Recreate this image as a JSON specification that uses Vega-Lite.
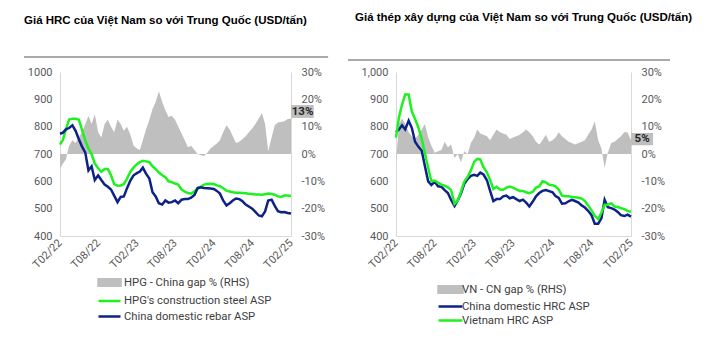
{
  "$schema": "https://vega.github.io/schema/vega-lite/v6.json",
  "background": "white",
  "padding": {"left": 23, "top": 11, "right": 5, "bottom": 5},
  "spacing": 18,
  "config": {
    "view": {"stroke": null},
    "font": "Roboto",
    "axis": {"labelFont": "Roboto", "labelColor": "#595959", "labelFontSize": 11, "ticks": false, "grid": false, "domainColor": "#d9d9d9", "domainWidth": 1, "title": null, "labelOverlap": false, "labelBound": false},
    "legend": {"orient": "none", "direction": "vertical", "title": null, "padding": 0, "labelFont": "Roboto", "labelFontSize": 11.3, "labelColor": "#404040"}
  },
  "hconcat": [
    {
      "width": 231,
      "height": 164,
      "title": {"text": "Giá HRC của Việt Nam so với Trung Quốc (USD/tấn)", "anchor": "start", "frame": "group", "dx": -36, "offset": 30, "font": "Liberation Sans", "fontSize": 11.5, "fontWeight": "bold", "color": "#000000"},
      "data": {"values": [
        {"d": "2022-02-01", "gap": -0.054, "green": 734, "navy": 774},
        {"d": "2022-02-15", "gap": -0.035, "green": 752, "navy": 778},
        {"d": "2022-03-01", "gap": -0.02, "green": 790, "navy": 790},
        {"d": "2022-03-16", "gap": 0.03, "green": 826, "navy": 795},
        {"d": "2022-04-01", "gap": 0.05, "green": 829, "navy": 805},
        {"d": "2022-04-16", "gap": 0.04, "green": 829, "navy": 785},
        {"d": "2022-05-01", "gap": 0.06, "green": 826, "navy": 755},
        {"d": "2022-05-16", "gap": 0.08, "green": 790, "navy": 728},
        {"d": "2022-06-01", "gap": 0.11, "green": 750, "navy": 705},
        {"d": "2022-06-16", "gap": 0.14, "green": 720, "navy": 640},
        {"d": "2022-07-01", "gap": 0.11, "green": 700, "navy": 655},
        {"d": "2022-07-16", "gap": 0.145, "green": 665, "navy": 605},
        {"d": "2022-08-01", "gap": 0.08, "green": 648, "navy": 622},
        {"d": "2022-08-16", "gap": 0.06, "green": 635, "navy": 605},
        {"d": "2022-09-01", "gap": 0.11, "green": 645, "navy": 588},
        {"d": "2022-09-16", "gap": 0.125, "green": 645, "navy": 580},
        {"d": "2022-10-01", "gap": 0.10, "green": 622, "navy": 570},
        {"d": "2022-10-16", "gap": 0.08, "green": 590, "navy": 548},
        {"d": "2022-11-01", "gap": 0.125, "green": 584, "navy": 524},
        {"d": "2022-11-16", "gap": 0.11, "green": 585, "navy": 543},
        {"d": "2022-12-01", "gap": 0.085, "green": 590, "navy": 545},
        {"d": "2022-12-16", "gap": 0.10, "green": 610, "navy": 575},
        {"d": "2023-01-01", "gap": 0.07, "green": 635, "navy": 603},
        {"d": "2023-01-16", "gap": 0.03, "green": 650, "navy": 622},
        {"d": "2023-02-01", "gap": 0.02, "green": 663, "navy": 630},
        {"d": "2023-02-15", "gap": 0.015, "green": 670, "navy": 636},
        {"d": "2023-03-01", "gap": 0.05, "green": 675, "navy": 650},
        {"d": "2023-03-16", "gap": 0.09, "green": 673, "navy": 628},
        {"d": "2023-04-01", "gap": 0.125, "green": 670, "navy": 610},
        {"d": "2023-04-16", "gap": 0.165, "green": 655, "navy": 560},
        {"d": "2023-05-01", "gap": 0.19, "green": 645, "navy": 545},
        {"d": "2023-05-16", "gap": 0.23, "green": 632, "navy": 520},
        {"d": "2023-06-01", "gap": 0.19, "green": 622, "navy": 515},
        {"d": "2023-06-16", "gap": 0.16, "green": 615, "navy": 530},
        {"d": "2023-07-01", "gap": 0.135, "green": 600, "navy": 522},
        {"d": "2023-07-16", "gap": 0.14, "green": 597, "navy": 524},
        {"d": "2023-08-01", "gap": 0.125, "green": 592, "navy": 530},
        {"d": "2023-08-16", "gap": 0.10, "green": 588, "navy": 520},
        {"d": "2023-09-01", "gap": 0.075, "green": 570, "navy": 533},
        {"d": "2023-09-16", "gap": 0.05, "green": 562, "navy": 535},
        {"d": "2023-10-01", "gap": 0.025, "green": 557, "navy": 535},
        {"d": "2023-10-16", "gap": 0.03, "green": 555, "navy": 540},
        {"d": "2023-11-01", "gap": 0.015, "green": 563, "navy": 550},
        {"d": "2023-11-16", "gap": 0.0, "green": 575, "navy": 575},
        {"d": "2023-12-01", "gap": -0.005, "green": 580, "navy": 578},
        {"d": "2023-12-16", "gap": -0.007, "green": 588, "navy": 576},
        {"d": "2024-01-01", "gap": 0.005, "green": 590, "navy": 575},
        {"d": "2024-01-16", "gap": 0.02, "green": 591, "navy": 574},
        {"d": "2024-02-01", "gap": 0.03, "green": 590, "navy": 572},
        {"d": "2024-02-15", "gap": 0.038, "green": 585, "navy": 565},
        {"d": "2024-03-01", "gap": 0.05, "green": 582, "navy": 555},
        {"d": "2024-03-16", "gap": 0.08, "green": 575, "navy": 530},
        {"d": "2024-04-01", "gap": 0.105, "green": 566, "navy": 512},
        {"d": "2024-04-16", "gap": 0.09, "green": 563, "navy": 520},
        {"d": "2024-05-01", "gap": 0.065, "green": 560, "navy": 530},
        {"d": "2024-05-16", "gap": 0.04, "green": 558, "navy": 537},
        {"d": "2024-06-01", "gap": 0.045, "green": 558, "navy": 535},
        {"d": "2024-06-16", "gap": 0.055, "green": 557, "navy": 527},
        {"d": "2024-07-01", "gap": 0.065, "green": 556, "navy": 515},
        {"d": "2024-07-16", "gap": 0.08, "green": 555, "navy": 508},
        {"d": "2024-08-01", "gap": 0.093, "green": 554, "navy": 500},
        {"d": "2024-08-16", "gap": 0.11, "green": 552, "navy": 488},
        {"d": "2024-09-01", "gap": 0.13, "green": 552, "navy": 475},
        {"d": "2024-09-16", "gap": 0.15, "green": 551, "navy": 472},
        {"d": "2024-10-01", "gap": 0.11, "green": 553, "navy": 490},
        {"d": "2024-10-16", "gap": 0.01, "green": 555, "navy": 530},
        {"d": "2024-11-01", "gap": 0.06, "green": 554, "navy": 533},
        {"d": "2024-11-16", "gap": 0.105, "green": 551, "navy": 510},
        {"d": "2024-12-01", "gap": 0.115, "green": 545, "navy": 491},
        {"d": "2024-12-16", "gap": 0.117, "green": 543, "navy": 487},
        {"d": "2025-01-01", "gap": 0.12, "green": 548, "navy": 488},
        {"d": "2025-01-16", "gap": 0.128, "green": 548, "navy": 484},
        {"d": "2025-02-01", "gap": 0.13, "green": 546, "navy": 482}
      ]},
      "layer": [
        {
          "layer": [
            {
              "mark": {"type": "area", "opacity": 1, "interpolate": "linear"},
              "encoding": {
                "x": {"field": "d", "type": "temporal",
                  "scale": {"type": "utc", "domain": [{"year": 2022, "month": 2, "date": 1, "utc": true}, {"year": 2025, "month": 2, "date": 1, "utc": true}]},
                  "axis": {"values": [
                    {"year": 2022, "month": 2, "date": 1, "utc": true},
                    {"year": 2022, "month": 8, "date": 1, "utc": true},
                    {"year": 2023, "month": 2, "date": 1, "utc": true},
                    {"year": 2023, "month": 8, "date": 1, "utc": true},
                    {"year": 2024, "month": 2, "date": 1, "utc": true},
                    {"year": 2024, "month": 8, "date": 1, "utc": true},
                    {"year": 2025, "month": 2, "date": 1, "utc": true}],
                    "labelExpr": "'T' + utcFormat(datum.value, '%m/%y')", "labelAngle": -45, "labelAlign": "right", "labelBaseline": "middle", "labelPadding": 5, "labelFontSize": 11, "labelOverlap": false}},
                "y": {"field": "gap", "type": "quantitative",
                  "scale": {"domain": [-0.3, 0.3], "nice": false, "zero": false},
                  "axis": {"orient": "right", "values": [-0.3, -0.2, -0.1, 0, 0.1, 0.2, 0.3], "format": ".0%", "labelExpr": "replace(datum.label, '\u2212', '-')", "labelPadding": 10, "labelOverlap": false}},
                "color": {"datum": "gap", "type": "nominal",
                  "scale": {"domain": ["gap", "green", "navy"], "range": ["#bfbfbf", "#1ef21e", "#0d2289"]},
                  "legend": {
                    "orient": "none", "legendX": 40, "legendY": 201, "direction": "vertical", "title": null, "padding": 0,
                    "symbolSize": 256, "labelOffset": 5, "rowPadding": 0.5,
                    "labelFont": "Roboto", "labelFontSize": 11.3, "labelColor": "#404040",
                    "labelExpr": "datum.value == 'gap' ? 'HPG - China gap % (RHS)' : datum.value == 'green' ? 'HPG\\'s construction steel ASP' : 'China domestic rebar ASP'",
                    "encode": {"symbols": {"update": {
                      "shape": {"signal": "datum.value == 'gap' ? 'M-1.375,-0.41H1.375V0.41H-1.375Z' : 'M-1.375,0H1.375'"},
                      "fill": {"signal": "datum.value == 'gap' ? '#bfbfbf' : 'transparent'"},
                      "stroke": {"signal": "datum.value == 'gap' ? 'transparent' : datum.value == 'green' ? '#1ef21e' : '#0d2289'"},
                      "strokeWidth": {"value": 2.5},
                      "opacity": {"value": 1}
                    }}}
                  }}
              }
            },
            {
              "data": {"values": [{"lab": "13%"}]},
              "mark": {"type": "rect", "color": "#bfbfbf", "opacity": 1},
              "encoding": {
                "x": {"datum": {"year": 2025, "month": 2, "date": 1, "utc": true}, "type": "temporal",
                  "axis": {"values": [
                    {"year": 2022, "month": 2, "date": 1, "utc": true},
                    {"year": 2022, "month": 8, "date": 1, "utc": true},
                    {"year": 2023, "month": 2, "date": 1, "utc": true},
                    {"year": 2023, "month": 8, "date": 1, "utc": true},
                    {"year": 2024, "month": 2, "date": 1, "utc": true},
                    {"year": 2024, "month": 8, "date": 1, "utc": true},
                    {"year": 2025, "month": 2, "date": 1, "utc": true}],
                    "labelExpr": "'T' + utcFormat(datum.value, '%m/%y')", "labelAngle": -45, "labelAlign": "right", "labelBaseline": "middle", "labelPadding": 5, "labelFontSize": 11, "labelOverlap": false}},
                "x2": {"datum": {"year": 2025, "month": 5, "date": 20, "utc": true}},
                "y": {"datum": 0.179, "type": "quantitative",
                  "axis": {"orient": "right", "values": [-0.3, -0.2, -0.1, 0, 0.1, 0.2, 0.3], "format": ".0%", "labelExpr": "replace(datum.label, '\u2212', '-')", "labelPadding": 10, "labelOverlap": false}},
                "y2": {"datum": 0.132}
              }
            },
            {
              "data": {"values": [{"lab": "13%"}]},
              "mark": {"type": "text", "font": "Roboto", "fontWeight": "bold", "fontSize": 11.5, "color": "#262626"},
              "encoding": {
                "x": {"datum": {"year": 2025, "month": 3, "date": 28, "utc": true}, "type": "temporal",
                  "axis": {"values": [
                    {"year": 2022, "month": 2, "date": 1, "utc": true},
                    {"year": 2022, "month": 8, "date": 1, "utc": true},
                    {"year": 2023, "month": 2, "date": 1, "utc": true},
                    {"year": 2023, "month": 8, "date": 1, "utc": true},
                    {"year": 2024, "month": 2, "date": 1, "utc": true},
                    {"year": 2024, "month": 8, "date": 1, "utc": true},
                    {"year": 2025, "month": 2, "date": 1, "utc": true}],
                    "labelExpr": "'T' + utcFormat(datum.value, '%m/%y')", "labelAngle": -45, "labelAlign": "right", "labelBaseline": "middle", "labelPadding": 5, "labelFontSize": 11, "labelOverlap": false}},
                "y": {"datum": 0.155, "type": "quantitative",
                  "axis": {"orient": "right", "values": [-0.3, -0.2, -0.1, 0, 0.1, 0.2, 0.3], "format": ".0%", "labelExpr": "replace(datum.label, '\u2212', '-')", "labelPadding": 10, "labelOverlap": false}},
                "text": {"field": "lab"}
              }
            }
          ]
        },
        {
          "layer": [
            {
              "transform": [{"fold": ["green", "navy"], "as": ["series", "price"]}],
              "mark": {"type": "line", "strokeWidth": 2.5, "interpolate": "linear"},
              "encoding": {
                "x": {"field": "d", "type": "temporal",
                  "axis": {"values": [
                    {"year": 2022, "month": 2, "date": 1, "utc": true},
                    {"year": 2022, "month": 8, "date": 1, "utc": true},
                    {"year": 2023, "month": 2, "date": 1, "utc": true},
                    {"year": 2023, "month": 8, "date": 1, "utc": true},
                    {"year": 2024, "month": 2, "date": 1, "utc": true},
                    {"year": 2024, "month": 8, "date": 1, "utc": true},
                    {"year": 2025, "month": 2, "date": 1, "utc": true}],
                    "labelExpr": "'T' + utcFormat(datum.value, '%m/%y')", "labelAngle": -45, "labelAlign": "right", "labelBaseline": "middle", "labelPadding": 5, "labelFontSize": 11, "labelOverlap": false}},
                "y": {"field": "price", "type": "quantitative",
                  "scale": {"domain": [400, 1000], "nice": false, "zero": false},
                  "axis": {"orient": "left", "values": [400, 500, 600, 700, 800, 900, 1000], "format": "d", "labelPadding": 8, "labelOverlap": false}},
                "color": {"field": "series", "type": "nominal",
                  "legend": {
                    "orient": "none", "legendX": 40, "legendY": 201, "direction": "vertical", "title": null, "padding": 0,
                    "symbolSize": 256, "labelOffset": 5, "rowPadding": 0.5,
                    "labelFont": "Roboto", "labelFontSize": 11.3, "labelColor": "#404040",
                    "labelExpr": "datum.value == 'gap' ? 'HPG - China gap % (RHS)' : datum.value == 'green' ? 'HPG\\'s construction steel ASP' : 'China domestic rebar ASP'",
                    "encode": {"symbols": {"update": {
                      "shape": {"signal": "datum.value == 'gap' ? 'M-1.375,-0.41H1.375V0.41H-1.375Z' : 'M-1.375,0H1.375'"},
                      "fill": {"signal": "datum.value == 'gap' ? '#bfbfbf' : 'transparent'"},
                      "stroke": {"signal": "datum.value == 'gap' ? 'transparent' : datum.value == 'green' ? '#1ef21e' : '#0d2289'"},
                      "strokeWidth": {"value": 2.5},
                      "opacity": {"value": 1}
                    }}}
                  }}
              }
            },
            {
              "data": {"values": [{}]},
              "mark": {"type": "rule", "color": "#8c8c8c", "strokeWidth": 1.5},
              "encoding": {
                "x": {"datum": {"year": 2021, "month": 8, "date": 14, "utc": true}, "type": "temporal",
                  "axis": {"values": [
                    {"year": 2022, "month": 2, "date": 1, "utc": true},
                    {"year": 2022, "month": 8, "date": 1, "utc": true},
                    {"year": 2023, "month": 2, "date": 1, "utc": true},
                    {"year": 2023, "month": 8, "date": 1, "utc": true},
                    {"year": 2024, "month": 2, "date": 1, "utc": true},
                    {"year": 2024, "month": 8, "date": 1, "utc": true},
                    {"year": 2025, "month": 2, "date": 1, "utc": true}],
                    "labelExpr": "'T' + utcFormat(datum.value, '%m/%y')", "labelAngle": -45, "labelAlign": "right", "labelBaseline": "middle", "labelPadding": 5, "labelFontSize": 11, "labelOverlap": false}},
                "x2": {"datum": {"year": 2025, "month": 7, "date": 27, "utc": true}},
                "y": {"datum": 1055, "type": "quantitative",
                  "axis": {"orient": "left", "values": [400, 500, 600, 700, 800, 900, 1000], "format": "d", "labelPadding": 8, "labelOverlap": false}}
              }
            }
          ]
        }
      ],
      "resolve": {"scale": {"y": "independent"}}
    },
    {
      "width": 235,
      "height": 164,
      "title": {"text": "Giá thép xây dựng của Việt Nam so với Trung Quốc (USD/tấn)", "anchor": "start", "frame": "group", "dx": -41, "offset": 36, "font": "Liberation Sans", "fontSize": 11.5, "fontWeight": "bold", "color": "#000000"},
      "data": {"values": [
        {"d": "2022-02-01", "gap": -0.03, "green": 760, "navy": 780},
        {"d": "2022-02-15", "gap": 0.11, "green": 835, "navy": 790},
        {"d": "2022-03-01", "gap": 0.13, "green": 880, "navy": 805},
        {"d": "2022-03-16", "gap": 0.11, "green": 918, "navy": 790},
        {"d": "2022-04-01", "gap": 0.08, "green": 918, "navy": 822},
        {"d": "2022-04-16", "gap": 0.065, "green": 855, "navy": 795},
        {"d": "2022-05-01", "gap": 0.055, "green": 828, "navy": 745},
        {"d": "2022-05-16", "gap": 0.07, "green": 798, "navy": 727},
        {"d": "2022-06-01", "gap": 0.09, "green": 755, "navy": 712},
        {"d": "2022-06-16", "gap": 0.11, "green": 702, "navy": 655},
        {"d": "2022-07-01", "gap": 0.06, "green": 650, "navy": 600},
        {"d": "2022-07-16", "gap": 0.03, "green": 600, "navy": 587},
        {"d": "2022-08-01", "gap": 0.005, "green": 603, "navy": 598},
        {"d": "2022-08-16", "gap": 0.01, "green": 595, "navy": 582},
        {"d": "2022-09-01", "gap": 0.015, "green": 588, "navy": 580},
        {"d": "2022-09-16", "gap": 0.045, "green": 584, "navy": 568},
        {"d": "2022-10-01", "gap": 0.025, "green": 578, "navy": 557},
        {"d": "2022-10-16", "gap": 0.035, "green": 568, "navy": 532},
        {"d": "2022-11-01", "gap": -0.015, "green": 518, "navy": 510},
        {"d": "2022-11-16", "gap": 0.0, "green": 530, "navy": 530},
        {"d": "2022-12-01", "gap": -0.03, "green": 562, "navy": 555},
        {"d": "2022-12-16", "gap": 0.01, "green": 598, "navy": 590},
        {"d": "2023-01-01", "gap": 0.0, "green": 616, "navy": 608},
        {"d": "2023-01-16", "gap": 0.04, "green": 640, "navy": 620},
        {"d": "2023-02-01", "gap": 0.06, "green": 672, "navy": 624},
        {"d": "2023-02-15", "gap": 0.09, "green": 682, "navy": 620},
        {"d": "2023-03-01", "gap": 0.075, "green": 680, "navy": 632},
        {"d": "2023-03-16", "gap": 0.07, "green": 652, "navy": 625},
        {"d": "2023-04-01", "gap": 0.065, "green": 633, "navy": 604},
        {"d": "2023-04-16", "gap": 0.05, "green": 605, "navy": 565},
        {"d": "2023-05-01", "gap": 0.07, "green": 572, "navy": 528},
        {"d": "2023-05-16", "gap": 0.09, "green": 580, "navy": 535},
        {"d": "2023-06-01", "gap": 0.08, "green": 570, "navy": 535},
        {"d": "2023-06-16", "gap": 0.075, "green": 569, "navy": 545},
        {"d": "2023-07-01", "gap": 0.07, "green": 577, "navy": 548},
        {"d": "2023-07-16", "gap": 0.055, "green": 581, "navy": 538},
        {"d": "2023-08-01", "gap": 0.06, "green": 577, "navy": 542},
        {"d": "2023-08-16", "gap": 0.065, "green": 571, "navy": 535},
        {"d": "2023-09-01", "gap": 0.07, "green": 565, "navy": 528},
        {"d": "2023-09-16", "gap": 0.08, "green": 565, "navy": 533},
        {"d": "2023-10-01", "gap": 0.09, "green": 560, "navy": 522},
        {"d": "2023-10-16", "gap": 0.08, "green": 557, "navy": 508},
        {"d": "2023-11-01", "gap": 0.065, "green": 562, "navy": 526},
        {"d": "2023-11-16", "gap": 0.045, "green": 577, "navy": 545},
        {"d": "2023-12-01", "gap": 0.035, "green": 581, "navy": 557},
        {"d": "2023-12-16", "gap": 0.05, "green": 600, "navy": 565},
        {"d": "2024-01-01", "gap": 0.07, "green": 596, "navy": 568},
        {"d": "2024-01-16", "gap": 0.045, "green": 588, "navy": 564},
        {"d": "2024-02-01", "gap": 0.05, "green": 586, "navy": 560},
        {"d": "2024-02-15", "gap": 0.06, "green": 582, "navy": 546},
        {"d": "2024-03-01", "gap": 0.08, "green": 570, "navy": 539},
        {"d": "2024-03-16", "gap": 0.065, "green": 548, "navy": 518},
        {"d": "2024-04-01", "gap": 0.055, "green": 545, "navy": 520},
        {"d": "2024-04-16", "gap": 0.045, "green": 545, "navy": 527},
        {"d": "2024-05-01", "gap": 0.04, "green": 543, "navy": 532},
        {"d": "2024-05-16", "gap": 0.035, "green": 542, "navy": 528},
        {"d": "2024-06-01", "gap": 0.04, "green": 540, "navy": 522},
        {"d": "2024-06-16", "gap": 0.045, "green": 537, "navy": 512},
        {"d": "2024-07-01", "gap": 0.05, "green": 528, "navy": 504},
        {"d": "2024-07-16", "gap": 0.07, "green": 512, "navy": 492},
        {"d": "2024-08-01", "gap": 0.09, "green": 494, "navy": 476},
        {"d": "2024-08-16", "gap": 0.12, "green": 474, "navy": 445},
        {"d": "2024-09-01", "gap": 0.05, "green": 462, "navy": 445},
        {"d": "2024-09-16", "gap": 0.02, "green": 485, "navy": 465},
        {"d": "2024-10-01", "gap": -0.05, "green": 514, "navy": 532},
        {"d": "2024-10-16", "gap": 0.005, "green": 514, "navy": 505},
        {"d": "2024-11-01", "gap": 0.04, "green": 520, "navy": 502},
        {"d": "2024-11-16", "gap": 0.045, "green": 508, "navy": 497},
        {"d": "2024-12-01", "gap": 0.055, "green": 506, "navy": 488},
        {"d": "2024-12-16", "gap": 0.065, "green": 502, "navy": 476},
        {"d": "2025-01-01", "gap": 0.08, "green": 498, "navy": 473},
        {"d": "2025-01-16", "gap": 0.08, "green": 492, "navy": 478},
        {"d": "2025-02-01", "gap": 0.05, "green": 489, "navy": 471}
      ]},
      "layer": [
        {
          "layer": [
            {
              "mark": {"type": "area", "opacity": 1, "interpolate": "linear"},
              "encoding": {
                "x": {"field": "d", "type": "temporal",
                  "scale": {"type": "utc", "domain": [{"year": 2022, "month": 2, "date": 1, "utc": true}, {"year": 2025, "month": 2, "date": 1, "utc": true}]},
                  "axis": {"values": [
                    {"year": 2022, "month": 2, "date": 1, "utc": true},
                    {"year": 2022, "month": 8, "date": 1, "utc": true},
                    {"year": 2023, "month": 2, "date": 1, "utc": true},
                    {"year": 2023, "month": 8, "date": 1, "utc": true},
                    {"year": 2024, "month": 2, "date": 1, "utc": true},
                    {"year": 2024, "month": 8, "date": 1, "utc": true},
                    {"year": 2025, "month": 2, "date": 1, "utc": true}],
                    "labelExpr": "'T' + utcFormat(datum.value, '%m/%y')", "labelAngle": -45, "labelAlign": "right", "labelBaseline": "middle", "labelPadding": 5, "labelFontSize": 11, "labelOverlap": false}},
                "y": {"field": "gap", "type": "quantitative",
                  "scale": {"domain": [-0.3, 0.3], "nice": false, "zero": false},
                  "axis": {"orient": "right", "values": [-0.3, -0.2, -0.1, 0, 0.1, 0.2, 0.3], "format": ".0%", "labelExpr": "replace(datum.label, '\u2212', '-')", "labelPadding": 10, "labelOverlap": false}},
                "color": {"datum": "gap", "type": "nominal",
                  "scale": {"domain": ["gap", "navy", "green"], "range": ["#bfbfbf", "#0d2289", "#1ef21e"]},
                  "legend": {
                    "orient": "none", "legendX": 46, "legendY": 209, "direction": "vertical", "title": null, "padding": 0,
                    "symbolSize": 196, "labelOffset": 3, "rowPadding": -5,
                    "labelFont": "Roboto", "labelFontSize": 11.3, "labelColor": "#404040",
                    "labelExpr": "datum.value == 'gap' ? 'VN - CN gap % (RHS)' : datum.value == 'navy' ? 'China domestic HRC ASP' : 'Vietnam HRC ASP'",
                    "encode": {"symbols": {"update": {
                      "shape": {"signal": "datum.value == 'gap' ? 'M-1.71,-0.47H1.71V0.47H-1.71Z' : 'M-1.71,0H1.71'"},
                      "fill": {"signal": "datum.value == 'gap' ? '#bfbfbf' : 'transparent'"},
                      "stroke": {"signal": "datum.value == 'gap' ? 'transparent' : datum.value == 'green' ? '#1ef21e' : '#0d2289'"},
                      "strokeWidth": {"value": 2.5},
                      "opacity": {"value": 1}
                    }}}
                  }}
              }
            },
            {
              "data": {"values": [{"lab": "5%"}]},
              "mark": {"type": "rect", "color": "#bfbfbf", "opacity": 1},
              "encoding": {
                "x": {"datum": {"year": 2025, "month": 2, "date": 1, "utc": true}, "type": "temporal",
                  "axis": {"values": [
                    {"year": 2022, "month": 2, "date": 1, "utc": true},
                    {"year": 2022, "month": 8, "date": 1, "utc": true},
                    {"year": 2023, "month": 2, "date": 1, "utc": true},
                    {"year": 2023, "month": 8, "date": 1, "utc": true},
                    {"year": 2024, "month": 2, "date": 1, "utc": true},
                    {"year": 2024, "month": 8, "date": 1, "utc": true},
                    {"year": 2025, "month": 2, "date": 1, "utc": true}],
                    "labelExpr": "'T' + utcFormat(datum.value, '%m/%y')", "labelAngle": -45, "labelAlign": "right", "labelBaseline": "middle", "labelPadding": 5, "labelFontSize": 11, "labelOverlap": false}},
                "x2": {"datum": {"year": 2025, "month": 5, "date": 15, "utc": true}},
                "y": {"datum": 0.077, "type": "quantitative",
                  "axis": {"orient": "right", "values": [-0.3, -0.2, -0.1, 0, 0.1, 0.2, 0.3], "format": ".0%", "labelExpr": "replace(datum.label, '\u2212', '-')", "labelPadding": 10, "labelOverlap": false}},
                "y2": {"datum": 0.032}
              }
            },
            {
              "data": {"values": [{"lab": "5%"}]},
              "mark": {"type": "text", "font": "Roboto", "fontWeight": "bold", "fontSize": 11.5, "color": "#262626"},
              "encoding": {
                "x": {"datum": {"year": 2025, "month": 3, "date": 25, "utc": true}, "type": "temporal",
                  "axis": {"values": [
                    {"year": 2022, "month": 2, "date": 1, "utc": true},
                    {"year": 2022, "month": 8, "date": 1, "utc": true},
                    {"year": 2023, "month": 2, "date": 1, "utc": true},
                    {"year": 2023, "month": 8, "date": 1, "utc": true},
                    {"year": 2024, "month": 2, "date": 1, "utc": true},
                    {"year": 2024, "month": 8, "date": 1, "utc": true},
                    {"year": 2025, "month": 2, "date": 1, "utc": true}],
                    "labelExpr": "'T' + utcFormat(datum.value, '%m/%y')", "labelAngle": -45, "labelAlign": "right", "labelBaseline": "middle", "labelPadding": 5, "labelFontSize": 11, "labelOverlap": false}},
                "y": {"datum": 0.054, "type": "quantitative",
                  "axis": {"orient": "right", "values": [-0.3, -0.2, -0.1, 0, 0.1, 0.2, 0.3], "format": ".0%", "labelExpr": "replace(datum.label, '\u2212', '-')", "labelPadding": 10, "labelOverlap": false}},
                "text": {"field": "lab"}
              }
            }
          ]
        },
        {
          "layer": [
            {
              "transform": [{"fold": ["navy", "green"], "as": ["series", "price"]}],
              "mark": {"type": "line", "strokeWidth": 2.5, "interpolate": "linear"},
              "encoding": {
                "x": {"field": "d", "type": "temporal",
                  "axis": {"values": [
                    {"year": 2022, "month": 2, "date": 1, "utc": true},
                    {"year": 2022, "month": 8, "date": 1, "utc": true},
                    {"year": 2023, "month": 2, "date": 1, "utc": true},
                    {"year": 2023, "month": 8, "date": 1, "utc": true},
                    {"year": 2024, "month": 2, "date": 1, "utc": true},
                    {"year": 2024, "month": 8, "date": 1, "utc": true},
                    {"year": 2025, "month": 2, "date": 1, "utc": true}],
                    "labelExpr": "'T' + utcFormat(datum.value, '%m/%y')", "labelAngle": -45, "labelAlign": "right", "labelBaseline": "middle", "labelPadding": 5, "labelFontSize": 11, "labelOverlap": false}},
                "y": {"field": "price", "type": "quantitative",
                  "scale": {"domain": [400, 1000], "nice": false, "zero": false},
                  "axis": {"orient": "left", "values": [400, 500, 600, 700, 800, 900, 1000], "format": ",d", "labelPadding": 8, "labelOverlap": false}},
                "color": {"field": "series", "type": "nominal",
                  "legend": {
                    "orient": "none", "legendX": 46, "legendY": 209, "direction": "vertical", "title": null, "padding": 0,
                    "symbolSize": 196, "labelOffset": 3, "rowPadding": -5,
                    "labelFont": "Roboto", "labelFontSize": 11.3, "labelColor": "#404040",
                    "labelExpr": "datum.value == 'gap' ? 'VN - CN gap % (RHS)' : datum.value == 'navy' ? 'China domestic HRC ASP' : 'Vietnam HRC ASP'",
                    "encode": {"symbols": {"update": {
                      "shape": {"signal": "datum.value == 'gap' ? 'M-1.71,-0.47H1.71V0.47H-1.71Z' : 'M-1.71,0H1.71'"},
                      "fill": {"signal": "datum.value == 'gap' ? '#bfbfbf' : 'transparent'"},
                      "stroke": {"signal": "datum.value == 'gap' ? 'transparent' : datum.value == 'green' ? '#1ef21e' : '#0d2289'"},
                      "strokeWidth": {"value": 2.5},
                      "opacity": {"value": 1}
                    }}}
                  }}
              }
            },
            {
              "data": {"values": [{}]},
              "mark": {"type": "rule", "color": "#8c8c8c", "strokeWidth": 1.5},
              "encoding": {
                "x": {"datum": {"year": 2021, "month": 6, "date": 22, "utc": true}, "type": "temporal",
                  "axis": {"values": [
                    {"year": 2022, "month": 2, "date": 1, "utc": true},
                    {"year": 2022, "month": 8, "date": 1, "utc": true},
                    {"year": 2023, "month": 2, "date": 1, "utc": true},
                    {"year": 2023, "month": 8, "date": 1, "utc": true},
                    {"year": 2024, "month": 2, "date": 1, "utc": true},
                    {"year": 2024, "month": 8, "date": 1, "utc": true},
                    {"year": 2025, "month": 2, "date": 1, "utc": true}],
                    "labelExpr": "'T' + utcFormat(datum.value, '%m/%y')", "labelAngle": -45, "labelAlign": "right", "labelBaseline": "middle", "labelPadding": 5, "labelFontSize": 11, "labelOverlap": false}},
                "x2": {"datum": {"year": 2025, "month": 8, "date": 2, "utc": true}},
                "y": {"datum": 1044, "type": "quantitative",
                  "axis": {"orient": "left", "values": [400, 500, 600, 700, 800, 900, 1000], "format": ",d", "labelPadding": 8, "labelOverlap": false}}
              }
            }
          ]
        }
      ],
      "resolve": {"scale": {"y": "independent"}}
    }
  ],
  "resolve": {"scale": {"color": "independent"}, "legend": {"color": "independent"}}
}
